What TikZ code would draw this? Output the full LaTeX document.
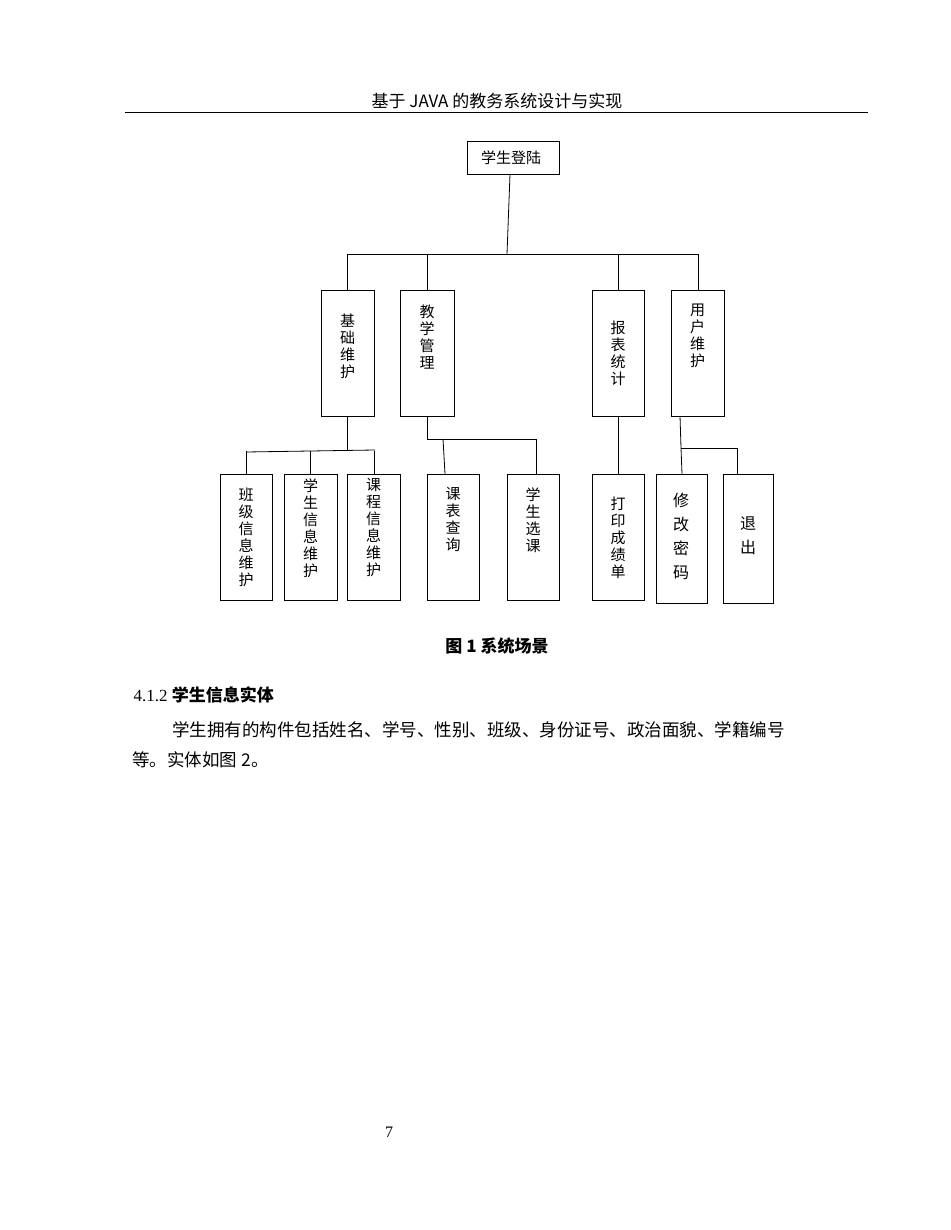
\documentclass[tikz,border=0pt]{standalone}
\usepackage{fontspec}
\setmainfont{Liberation Serif}
\newfontfamily\cjk{Noto Sans CJK SC}
\begin{document}
\begin{tikzpicture}[x=1pt,y=-1pt,line width=0.8pt,
 bx/.style={draw,anchor=north west,inner sep=0pt},
 vt/.style={font=\cjk\fontsize{15}{17}\selectfont,align=center,anchor=north,inner sep=0pt}]
\useasboundingbox (0,0) rectangle (950,1230);
\node[font=\cjk\fontsize{17}{20}\selectfont] (hdr) at (497,101) {基于 JAVA 的教务系统设计与实现};
\draw (125,112) -- (868,112);
% top
\draw (467,141) rectangle (559,174);
\node[font=\cjk\fontsize{15}{18}\selectfont] (top) at (511,157.5) {学生登陆};
\coordinate (t1) at (510,174); \coordinate (t2) at (507,254);
\draw (t1) -- (t2); \draw (347,254) -- (698,254);
\foreach \x in {347,427,618,698} \draw (\x,254) -- (\x,290);
% level2
\foreach \x/\w/\y/\t in {321/53/313/基\\础\\维\\护, 400/54/304/教\\学\\管\\理, 592/52/320/报\\表\\统\\计, 671/53/304/用\\户\\维\\护}{
 \draw (\x,290) rectangle ++(\w,126);
 \node[vt] at (\x+\w/2,\y) {\t};}
% level3
\foreach \x/\w/\y/\t in {220/52/487/班\\级\\信\\息\\维\\护, 284/53/478/学\\生\\信\\息\\维\\护, 347/53/478/课\\程\\信\\息\\维\\护, 427/52/487/课\\表\\查\\询, 507/52/487/学\\生\\选\\课, 592/52/496/打\\印\\成\\绩\\单}{
 \draw (\x,474) rectangle ++(\w,126);
 \node[vt] at (\x+\w/2,\y) {\t};}
\draw (656,474) rectangle (707,603);
\node[vt,font=\cjk\fontsize{16}{24}\selectfont] at (681,493) {修\\改\\密\\码};
\draw (723,474) rectangle (773,603);
\node[vt,font=\cjk\fontsize{16}{24}\selectfont] at (748,516) {退\\出};
% connectors
\draw (347,416) -- (347,450);
\draw (246,452) -- (375,450);
\foreach \x in {246,310,374} \draw (\x,451) -- (\x,474);
\draw (427,416) -- (427,439) -- (536,439) -- (536,474);
\draw (443,439) -- (445,474);
\draw (618,416) -- (618,474);
\draw (680,416) -- (681,448) -- (682,474);
\draw (681,448) -- (737,448) -- (737,474);
% text
\node[font=\cjk\bfseries\fontsize{17}{20}\selectfont] (cap) at (497,646) {图 1 系统场景};
\node[anchor=west,font=\fontsize{17}{20}\selectfont] (sec) at (130,695) {4.1.2 {\cjk\bfseries 学生信息实体}};
\node[anchor=west,font=\cjk\fontsize{17.5}{20}\selectfont,inner sep=0pt] (p1) at (172,730) {学生拥有的构件包括姓名、学号、性别、班级、身份证号、政治面貌、学籍编号};
\node[anchor=west,font=\cjk\fontsize{17.5}{20}\selectfont,inner sep=0pt] (p2) at (132,760) {等。实体如图 2。};
\node[font=\fontsize{16}{18}\selectfont] (pg) at (389,1132) {7};
\end{tikzpicture}
\end{document}
